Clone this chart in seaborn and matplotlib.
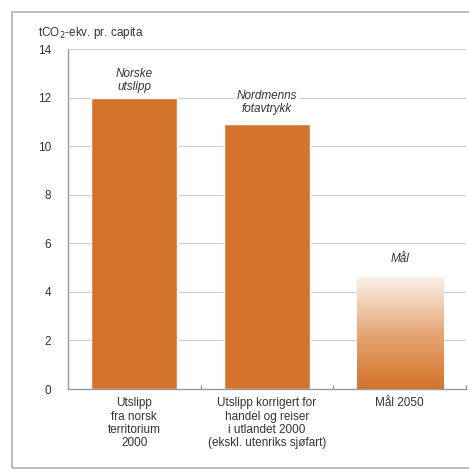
import numpy as np
import pandas as pd
import seaborn as sns
import matplotlib.pyplot as plt
from matplotlib.patches import Rectangle
from matplotlib.colors import LinearSegmentedColormap

categories = ['Utslipp\nfra norsk\nterritorium\n2000',
              'Utslipp korrigert for\nhandel og reiser\ni utlandet 2000\n(ekskl. utenriks sjøfart)',
              'Mål 2050']
values = [12.0, 10.9, 4.6]
bar_notes = ['Norske\nutslipp', 'Nordmenns\nfotavtrykk', 'Mål']
yticks = [0, 2, 4, 6, 8, 10, 12, 14]

orange = '#D4732B'
txt = '#333333'

sns.set_theme(style='white')
plt.rcParams['font.family'] = ['Liberation Sans', 'DejaVu Sans']

fig = plt.figure(figsize=(4.69, 4.76), dpi=100)
# outer frame
fig.patches.append(Rectangle((12 / 469, 8 / 476), 1.2, 456 / 476, transform=fig.transFigure,
                             fill=False, edgecolor='#b0b0b0', linewidth=1.2))
ax = fig.add_axes([68 / 469, 87 / 476, 398 / 469, 340 / 476])

df = pd.DataFrame({'cat': categories, 'val': values})
sns.barplot(data=df, x='cat', y='val', color=orange, saturation=1, width=0.65, ax=ax, zorder=2)

# gradient for the target bar: orange at the bottom fading to white at the top
bar = ax.patches[2]
bar.set_facecolor('none')
x0, w, h = bar.get_x(), bar.get_width(), bar.get_height()
grad = np.linspace(0, 1, 256).reshape(-1, 1)
cmap = LinearSegmentedColormap.from_list('g', [orange, '#e6a677', '#fbf1ea'])
im = ax.imshow(grad, extent=[x0, x0 + w, 0, h], aspect='auto', cmap=cmap, zorder=2,
               origin='lower')
im.set_clip_path(bar)

ax.set_xlim(-0.5, 2.5)
ax.set_ylim(0, 14)
ax.set_yticks(yticks)
for y in yticks[1:]:
    ax.axhline(y, color='#cfcfcf', linewidth=0.8, zorder=1)

note_y = [12.2, 11.3, 5.1]
for i, (t, y) in enumerate(zip(bar_notes, note_y)):
    ax.text(i, y, t, ha='center', va='bottom', style='italic',
            fontsize=8.5, color=txt, linespacing=1.1, zorder=3,
            bbox=dict(facecolor='white', edgecolor='none', pad=1.5))

ax.set_xlabel('')
ax.set_ylabel('')
ax.tick_params(axis='x', length=0, labelsize=8.5, labelcolor=txt, pad=6)
ax.tick_params(axis='y', length=0, labelsize=8.5, labelcolor=txt, pad=12)
for lbl in ax.get_xticklabels():
    lbl.set_linespacing(1.15)
ax.set_xticks([0.5, 1.5, 2.5], minor=True)
ax.tick_params(axis='x', which='minor', direction='in', length=3, color='#999999', bottom=True)

for s in ['top', 'right']:
    ax.spines[s].set_visible(False)
for s in ['left', 'bottom']:
    ax.spines[s].set_color('#999999')
    ax.spines[s].set_linewidth(1.0)

fig.text(38 / 469, 1 - 33 / 476, 'tCO$_2$-ekv. pr. capita', fontsize=8.5, color=txt,
         ha='left', va='center')

fig.savefig('out.png', dpi=100)
